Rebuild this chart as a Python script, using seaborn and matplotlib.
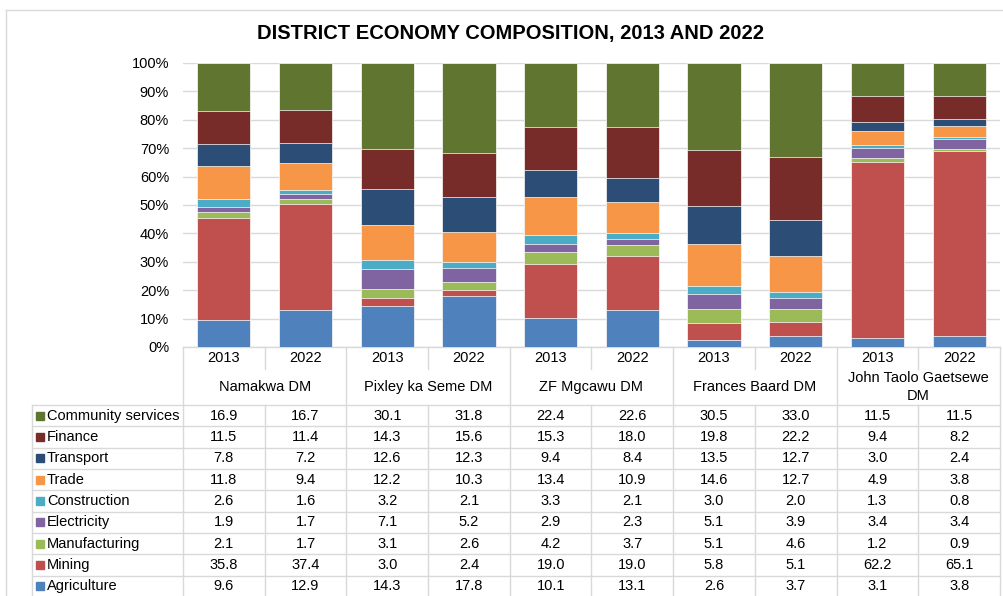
import numpy as np
import pandas as pd
import matplotlib
matplotlib.use("Agg")
import matplotlib.pyplot as plt
from matplotlib.patches import Rectangle
from matplotlib.lines import Line2D
import seaborn as sns

# ---------------- data ----------------
districts = ["Namakwa DM", "Pixley ka Seme DM", "ZF Mgcawu DM", "Frances Baard DM",
             "John Taolo Gaetsewe\nDM"]
years = ["2013", "2022"]
sectors = ["Agriculture", "Mining", "Manufacturing", "Electricity", "Construction",
           "Trade", "Transport", "Finance", "Community services"]

agriculture = [9.6, 12.9, 14.3, 17.8, 10.1, 13.1, 2.6, 3.7, 3.1, 3.8]
mining = [35.8, 37.4, 3.0, 2.4, 19.0, 19.0, 5.8, 5.1, 62.2, 65.1]
manufacturing = [2.1, 1.7, 3.1, 2.6, 4.2, 3.7, 5.1, 4.6, 1.2, 0.9]
electricity = [1.9, 1.7, 7.1, 5.2, 2.9, 2.3, 5.1, 3.9, 3.4, 3.4]
construction = [2.6, 1.6, 3.2, 2.1, 3.3, 2.1, 3.0, 2.0, 1.3, 0.8]
trade = [11.8, 9.4, 12.2, 10.3, 13.4, 10.9, 14.6, 12.7, 4.9, 3.8]
transport = [7.8, 7.2, 12.6, 12.3, 9.4, 8.4, 13.5, 12.7, 3.0, 2.4]
finance = [11.5, 11.4, 14.3, 15.6, 15.3, 18.0, 19.8, 22.2, 9.4, 8.2]
community = [16.9, 16.7, 30.1, 31.8, 22.4, 22.6, 30.5, 33.0, 11.5, 11.5]

series = [agriculture, mining, manufacturing, electricity, construction,
          trade, transport, finance, community]
colors = ["#4F81BD", "#C0504D", "#9BBB59", "#8064A2", "#4BACC6",
          "#F79646", "#2C4D75", "#772C2A", "#5F7530"]

# ---------------- frame ----------------
W, H = 1004, 596
plt.rcParams["font.family"] = ["Liberation Sans", "DejaVu Sans"]
fig = plt.figure(figsize=(W / 100, H / 100), dpi=100)
fig.patch.set_facecolor("white")

ax = fig.add_axes([183 / W, 1 - 347 / H, (1000 - 183) / W, (347 - 63) / H])
tab = fig.add_axes([0, 0, 1, 1], zorder=-1)
tab.set_xlim(0, W)
tab.set_ylim(H, 0)
tab.axis("off")

# ---------------- bars (100% stacked via overlay of cumulative shares) ----------------
bar_ids = [f"{d}|{y}" for d in districts for y in years]
vals = np.array(series, dtype=float)
share = vals / vals.sum(axis=0) * 100
cum = np.cumsum(share, axis=0)

for i in range(len(sectors) - 1, -1, -1):
    df = pd.DataFrame({"bar": bar_ids, "pct": cum[i]})
    sns.barplot(data=df, x="bar", y="pct", order=bar_ids, color=colors[i],
                width=0.65, edgecolor="#ffffff", linewidth=0.5, saturation=1,
                ax=ax, zorder=3)

ax.set_xlim(-0.5, len(bar_ids) - 0.5)
ax.set_ylim(0, 100)
ax.set_yticks(np.arange(0, 101, 10))
ax.set_yticklabels([f"{t}%" for t in range(0, 101, 10)], fontsize=10.5)
ax.set_xticks([])
ax.set_xlabel("")
ax.set_ylabel("")
ax.tick_params(axis="y", length=0, pad=10)
ax.grid(axis="y", color="#D9D9D9", linewidth=1, zorder=0)
ax.set_axisbelow(True)
for s in ax.spines.values():
    s.set_visible(False)
ax.set_facecolor("none")

# ---------------- title & outer frame ----------------
fig.text(511 / W, 1 - 33 / H, "DISTRICT ECONOMY COMPOSITION, 2013 AND 2022",
         ha="center", va="center", fontsize=14.5, fontweight="bold")
tab.add_line(Line2D([6, W], [10, 10], color="#D9D9D9", lw=1))
tab.add_line(Line2D([6, 6], [10, H], color="#D9D9D9", lw=1))

# ---------------- data table ----------------
gc = "#D9D9D9"
x0, x1 = 183, 1000
colw = (x1 - x0) / len(bar_ids)
y_top, y_year, y_dist = 347, 369, 405
rowh = 21.33
nrows = len(sectors)
y_bot = y_dist + rowh * nrows

# horizontal lines
tab.add_line(Line2D([x0, x1], [y_top, y_top], color=gc, lw=1))
tab.add_line(Line2D([32, x1], [y_dist, y_dist], color=gc, lw=1))
for r in range(1, nrows + 1):
    yy = y_dist + r * rowh
    tab.add_line(Line2D([32, x1], [yy, yy], color=gc, lw=1))
# vertical lines
tab.add_line(Line2D([32, 32], [y_dist, y_bot], color=gc, lw=1))
for k in range(len(bar_ids) + 1):
    xx = x0 + k * colw
    if k % 2 == 0:
        tab.add_line(Line2D([xx, xx], [y_top, y_bot], color=gc, lw=1))
    else:
        tab.add_line(Line2D([xx, xx], [y_top, y_year], color=gc, lw=1))
        tab.add_line(Line2D([xx, xx], [y_dist, y_bot], color=gc, lw=1))

# year labels
for k, bid in enumerate(bar_ids):
    tab.text(x0 + (k + 0.5) * colw, 358, bid.split("|")[1], ha="center",
             va="center", fontsize=10.5)
# district labels
for g, d in enumerate(districts):
    tab.text(x0 + (2 * g + 1) * colw, 387, d, ha="center", va="center",
             fontsize=10.5, linespacing=1.3)

# rows: top row is the top stack segment
for r in range(nrows):
    si = nrows - 1 - r
    yc = y_dist + (r + 0.5) * rowh
    tab.add_patch(Rectangle((36, yc - 4), 8, 8, color=colors[si]))
    tab.text(47, yc, sectors[si], ha="left", va="center", fontsize=10.5)
    for k in range(len(bar_ids)):
        tab.text(x0 + (k + 0.5) * colw, yc, f"{series[si][k]:.1f}",
                 ha="center", va="center", fontsize=10.5)

fig.savefig("out.png", dpi=100, facecolor="white")
